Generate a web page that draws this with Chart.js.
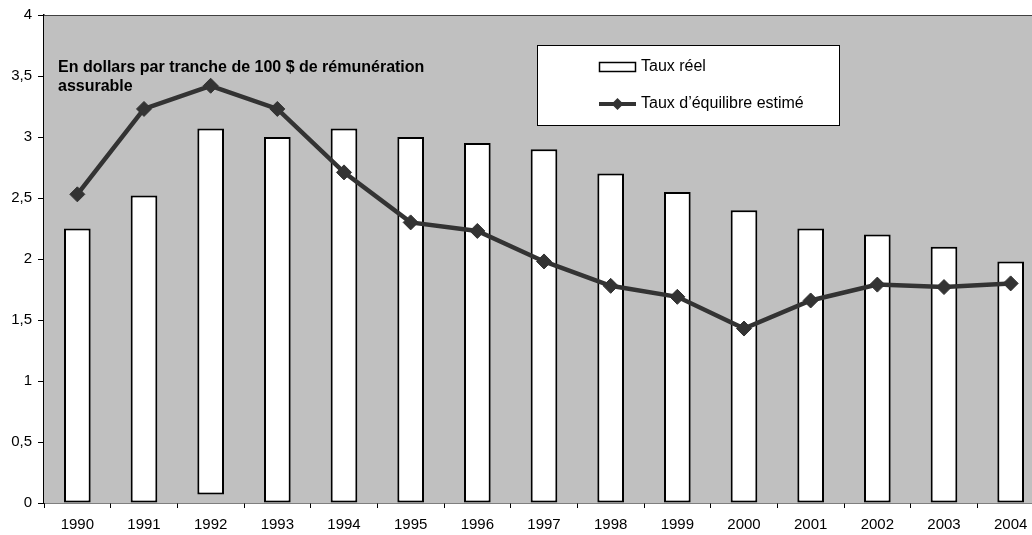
<!DOCTYPE html>
<html><head><meta charset="utf-8">
<script src="https://cdn.jsdelivr.net/npm/chart.js@4/dist/chart.umd.min.js"></script>
<style>html,body{margin:0;padding:0;overflow:hidden;background:#fff;width:1032px;height:535px}canvas{display:block}</style>
</head><body>
<canvas id="c" width="1060" height="535"></canvas>
<script>
const years = ['1990','1991','1992','1993','1994','1995','1996','1997','1998','1999','2000','2001','2002','2003','2004'];
const tauxReelBase = [0,0,0.07,0,0,0,0,0,0,0,0,0,0,0,0];
const tauxReel = [2.25,2.52,3.07,3.0,3.07,3.0,2.95,2.9,2.7,2.55,2.4,2.25,2.2,2.1,1.98];
const tauxEquilibre = [2.53,3.23,3.42,3.23,2.71,2.30,2.23,1.98,1.78,1.69,1.43,1.66,1.79,1.77,1.80];
const yTicks = [0,0.5,1,1.5,2,2.5,3,3.5,4];
const titleLines = ['En dollars par tranche de 100 $ de rémunération','assurable'];
const legendLabels = ['Taux réel','Taux d’équilibre estimé'];

const FONT = 'Arial, "Liberation Sans", sans-serif';

const bgPlugin = {
  id: 'bg',
  beforeDatasetsDraw(chart) {
    const a = chart.chartArea, ctx = chart.ctx;
    ctx.save();
    ctx.fillStyle = '#C0C0C0';
    ctx.fillRect(a.left, a.top, a.right - a.left, a.bottom - a.top);
    ctx.strokeStyle = '#404040';
    ctx.lineWidth = 1;
    ctx.beginPath();
    ctx.moveTo(a.left, a.top + 0.5);
    ctx.lineTo(a.right, a.top + 0.5);
    ctx.stroke();
    ctx.restore();
  },
  afterDraw(chart) {
    const ctx = chart.ctx;
    ctx.save();
    // title text
    ctx.fillStyle = '#000';
    ctx.font = 'bold 16px ' + FONT;
    ctx.textBaseline = 'middle';
    ctx.textAlign = 'left';
    ctx.fillText(titleLines[0], 58, 68);
    ctx.fillText(titleLines[1], 58, 87);
    // legend box
    ctx.fillStyle = '#fff';
    ctx.fillRect(537, 45, 302, 80);
    ctx.strokeStyle = '#000';
    ctx.lineWidth = 1;
    ctx.strokeRect(537.5, 45.5, 302, 80);
    // bar symbol
    ctx.fillStyle = '#fff';
    ctx.fillRect(599, 62, 37, 9);
    ctx.lineWidth = 1.5;
    ctx.strokeRect(599.5, 62.5, 36, 9);
    // line symbol
    ctx.strokeStyle = '#333';
    ctx.lineWidth = 4;
    ctx.beginPath();
    ctx.moveTo(599, 104);
    ctx.lineTo(636, 104);
    ctx.stroke();
    ctx.fillStyle = '#333';
    ctx.beginPath();
    ctx.moveTo(617.5, 98); ctx.lineTo(623.5, 104); ctx.lineTo(617.5, 110); ctx.lineTo(611.5, 104);
    ctx.closePath(); ctx.fill();
    // legend text
    ctx.fillStyle = '#000';
    ctx.font = '16px ' + FONT;
    ctx.fillText(legendLabels[0], 641, 67);
    ctx.fillText(legendLabels[1], 641, 104);
    ctx.restore();
  }
};

new Chart(document.getElementById('c'), {
  data: {
    labels: years,
    datasets: [
      {
        type: 'line',
        label: legendLabels[1],
        data: tauxEquilibre,
        borderColor: '#333333',
        borderWidth: 4.5,
        backgroundColor: '#333333',
        pointStyle: 'rectRot',
        pointRadius: 7.5,
        pointBackgroundColor: '#333333',
        pointBorderColor: '#333333',
        pointBorderWidth: 1,
        tension: 0,
        order: 0
      },
      {
        type: 'bar',
        label: legendLabels[0],
        data: tauxReel.map((v, i) => [tauxReelBase[i], v]),
        backgroundColor: '#ffffff',
        borderColor: '#000000',
        borderWidth: 2,
        borderSkipped: false,
        barPercentage: 0.4,
        categoryPercentage: 1,
        order: 1
      }
    ]
  },
  options: {
    responsive: false,
    animation: false,
    devicePixelRatio: 1,
    layout: { padding: { left: 0, top: 15, right: 16, bottom: 0 } },
    plugins: { legend: { display: false }, tooltip: { enabled: false } },
    scales: {
      x: {
        type: 'category',
        offset: true,
        afterFit(s) { s.height = 32; },
        grid: { display: true, offset: true, drawOnChartArea: false, tickLength: 5, color: '#000', tickColor: '#000', tickWidth: 1 },
        border: { display: true, color: '#000', width: 1.5 },
        ticks: { color: '#000', font: { family: FONT, size: 15 }, padding: 8, maxRotation: 0, autoSkip: false }
      },
      y: {
        min: 0, max: 4,
        afterFit(s) { s.width = 44; },
        afterBuildTicks(s) { s.ticks = yTicks.map(v => ({ value: v })); },
        grid: { display: true, drawOnChartArea: false, tickLength: 6, color: '#000', tickColor: '#000', tickWidth: 1 },
        border: { display: true, color: '#000', width: 1.5 },
        ticks: { color: '#000', font: { family: FONT, size: 15 }, padding: 6,
          callback: v => String(v).replace('.', ',') }
      }
    }
  },
  plugins: [bgPlugin]
});
</script>
</body></html>
